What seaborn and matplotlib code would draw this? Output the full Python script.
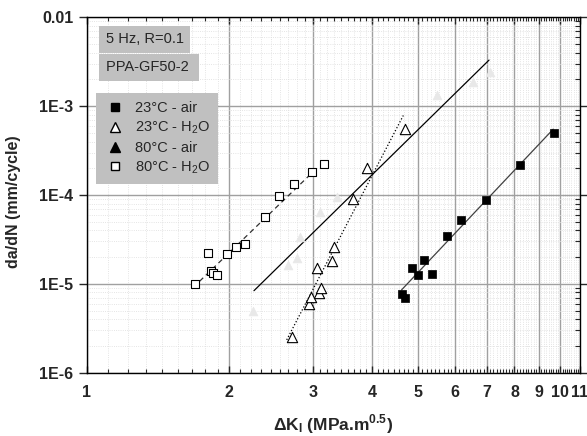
import matplotlib
matplotlib.use("Agg")
import matplotlib.pyplot as plt
import matplotlib.ticker as mticker
from matplotlib.lines import Line2D
import seaborn as sns
import numpy as np
import pandas as pd

# 23°C - air (filled squares)
dk_23_air = [4.62, 4.70, 4.85, 5.00, 5.16, 5.37, 5.75, 6.16, 6.95, 8.23, 9.70]
v_23_air = [7.7e-6, 6.9e-6, 1.50e-5, 1.26e-5, 1.86e-5, 1.29e-5, 3.48e-5, 5.23e-5, 8.8e-5, 2.18e-4, 4.95e-4]

# 23°C - H2O (open triangles)
dk_23_h2o = [2.71, 2.945, 2.97, 3.09, 3.12, 3.07, 3.29, 3.33, 3.65, 3.90, 4.70]
v_23_h2o = [2.5e-6, 5.9e-6, 7.1e-6, 7.95e-6, 9.05e-6, 1.50e-5, 1.82e-5, 2.62e-5, 9.0e-5, 2.03e-4, 5.5e-4]

# 80°C - air (filled triangles, printed very faint)
dk_80_air = [2.24, 2.66, 2.78, 2.82, 3.11, 3.38, 5.49, 6.54, 7.10]
v_80_air = [4.9e-6, 1.63e-5, 1.95e-5, 3.37e-5, 6.4e-5, 9.5e-5, 1.33e-3, 1.87e-3, 2.42e-3]

# 80°C - H2O (open squares)
dk_80_h2o = [1.693, 1.827, 1.845, 1.884, 1.803, 1.981, 2.063, 2.159, 2.378, 2.546, 2.734, 2.994, 3.169]
v_80_h2o = [9.9e-6, 1.41e-5, 1.31e-5, 1.25e-5, 2.21e-5, 2.18e-5, 2.60e-5, 2.83e-5, 5.7e-5, 9.8e-5, 1.32e-4, 1.80e-4, 2.22e-4]

# Paris law fits: log10(C), m, dK range
fit_logc = [-8.824, -9.963, -6.196, -6.924]
fit_m = [5.65, 10.26, 5.14, 5.23]
fit_lo = [4.62, 2.644, 1.679, 2.255]
fit_hi = [9.66, 4.66, 3.058, 7.07]
fit_style = ["-", ":", (0, (4, 3)), "-"]
fit_color = ["#404040", "black", "#303030", "black"]

x_ticks = [1, 2, 3, 4, 5, 6, 7, 8, 9, 10, 11]
y_ticks = [1e-6, 1e-5, 1e-4, 1e-3, 1e-2]
y_labels = ["1E-6", "1E-5", "1E-4", "1E-3", "0.01"]

sns.set_style("white")
plt.rcParams['font.family'] = ['Liberation Sans', 'DejaVu Sans']
plt.rcParams['mathtext.fontset'] = 'custom'
plt.rcParams['mathtext.rm'] = 'Liberation Sans'
plt.rcParams['mathtext.bf'] = 'Liberation Sans:bold'

fig = plt.figure(figsize=(5.87, 4.36), dpi=100)
ax = fig.add_axes([0.1477, 0.1452, 0.8403, 0.8151])
ax.set_xscale("log")
ax.set_yscale("log")
ax.set_xlim(1, 11)
ax.set_ylim(1e-6, 1e-2)

# ticks & grid
minor_x = [i + k / 9 for i in range(1, 11) for k in range(1, 9)]
ax.set_xticks(x_ticks, labels=[str(t) for t in x_ticks], fontweight="bold", fontsize=11.5)
ax.xaxis.set_minor_locator(mticker.FixedLocator(minor_x))
ax.xaxis.set_minor_formatter(mticker.NullFormatter())
ax.set_yticks(y_ticks, labels=y_labels, fontweight="bold", fontsize=11.5)
ax.yaxis.set_minor_locator(mticker.LogLocator(base=10, subs=np.arange(2, 10)))
ax.yaxis.set_minor_formatter(mticker.NullFormatter())
ax.set_xlim(1, 11)
ax.set_ylim(1e-6, 1e-2)
ax.grid(True, which="major", color="#a0a0a0", lw=1.0)
ax.grid(True, which="minor", color="#dcdcdc", lw=0.6, ls=":")
ax.set_axisbelow(True)

# fit lines
for lc, m, lo, hi, ls, col in zip(fit_logc, fit_m, fit_lo, fit_hi, fit_style, fit_color):
    xs = np.geomspace(lo, hi, 50)
    df_line = pd.DataFrame({"dk": xs, "v": 10 ** lc * xs ** m})
    sns.lineplot(data=df_line, x="dk", y="v", ax=ax, color=col, lw=0.9, linestyle=ls)

# points
sns.scatterplot(x=dk_80_air, y=v_80_air, ax=ax, marker="^", s=40, color="#e8e8e8",
                edgecolor="#e8e8e8", linewidth=0.5, zorder=3)
sns.scatterplot(x=dk_23_air, y=v_23_air, ax=ax, marker="s", s=30, color="black",
                edgecolor="black", linewidth=0.5, zorder=4)
sns.scatterplot(x=dk_23_h2o, y=v_23_h2o, ax=ax, marker="^", s=55, facecolor="white",
                edgecolor="black", linewidth=0.8, zorder=4)
sns.scatterplot(x=dk_80_h2o, y=v_80_h2o, ax=ax, marker="s", s=32, facecolor="white",
                edgecolor="black", linewidth=0.8, zorder=4)

ax.tick_params(axis="x", which="both", direction="in", top=True, bottom=True, pad=9)
ax.tick_params(axis="x", which="major", length=5, width=1)
ax.tick_params(axis="x", which="minor", length=3, width=0.8)
ax.tick_params(axis="y", which="both", direction="in", right=True, left=False)
ax.tick_params(axis="y", which="major", length=6, width=1)
ax.tick_params(axis="y", which="minor", length=3.5, width=0.8)
ax.tick_params(axis="y", which="major", left=True, direction="out", length=6)
for sp in ax.spines.values():
    sp.set_color("black")
    sp.set_linewidth(1.0)

ax.set_xlabel(r"$\mathbf{\Delta K_{I}}$ (MPa.m$^{\mathbf{0.5}}$)", fontsize=12.5,
              fontweight="bold", labelpad=9)
ax.set_ylabel("da/dN (mm/cycle)", fontsize=11.5, fontweight="bold")
ax.yaxis.set_label_coords(-0.133, 0.48)

# info boxes
box = dict(boxstyle="square,pad=0.45", facecolor="#c0c0c0", edgecolor="none")
ax.text(0.039, 0.938, "5 Hz, R=0.1", transform=ax.transAxes, fontsize=10.5,
        va="center", ha="left", bbox=box)
ax.text(0.039, 0.860, "PPA-GF50-2 ", transform=ax.transAxes, fontsize=10.5,
        va="center", ha="left", bbox=box)

handles = [
    Line2D([], [], ls="none", marker="s", ms=5.5, mfc="black", mec="black"),
    Line2D([], [], ls="none", marker="^", ms=7, mfc="white", mec="black"),
    Line2D([], [], ls="none", marker="^", ms=7, mfc="black", mec="black"),
    Line2D([], [], ls="none", marker="s", ms=5.5, mfc="white", mec="black"),
]
labels = ["23°C - air", "23°C - H$_2$O", "80°C - air", "80°C - H$_2$O"]
leg = ax.legend(handles, labels, loc="upper left", bbox_to_anchor=(0.0196, 0.786),
                fontsize=10.5, frameon=True, fancybox=False, facecolor="#c0c0c0",
                edgecolor="none", framealpha=1, handletextpad=0.6, handlelength=1.5,
                labelspacing=0.3, borderpad=0.55, borderaxespad=0)

fig.savefig("out.png", dpi=100)
